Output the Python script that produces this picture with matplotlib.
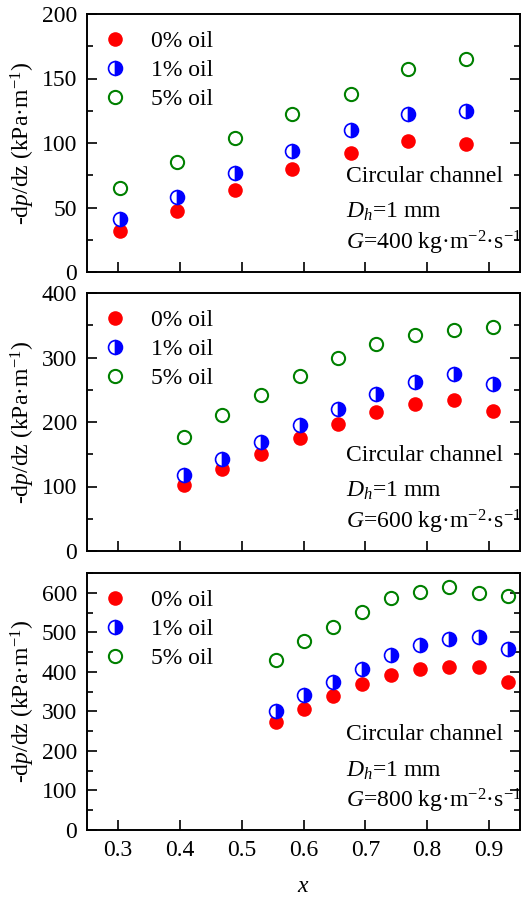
import numpy as np
import matplotlib
matplotlib.use('Agg')
import matplotlib.pyplot as plt
from matplotlib.ticker import MultipleLocator

plt.rcParams['font.family'] = ['Liberation Serif', 'DejaVu Serif']
plt.rcParams['mathtext.fontset'] = 'custom'
plt.rcParams['mathtext.rm'] = 'Liberation Serif'
plt.rcParams['mathtext.it'] = 'Liberation Serif:italic'
plt.rcParams['font.size'] = 17

# G = 400
x400 = [0.304, 0.396, 0.489, 0.582, 0.676, 0.769, 0.863]
oil0_400 = [32.0, 47.5, 63.6, 79.6, 92.5, 101.8, 99.0]
oil1_400 = [41.1, 57.9, 76.5, 93.8, 110.1, 122.5, 124.8]
oil5_400 = [65.4, 85.5, 104.1, 122.2, 137.8, 157.4, 165.1]

# G = 600
x600 = [0.407, 0.469, 0.531, 0.595, 0.656, 0.718, 0.781, 0.844, 0.907]
oil0_600 = [102.8, 126.6, 150.4, 174.7, 197.4, 216.0, 227.9, 234.6, 217.6]
oil1_600 = [118.3, 143.2, 169.0, 194.8, 220.7, 243.4, 262.5, 274.4, 259.4]
oil5_600 = [176.7, 211.4, 242.4, 271.3, 298.7, 320.4, 335.4, 342.1, 347.3]

# G = 800
x800 = [0.556, 0.600, 0.648, 0.694, 0.742, 0.789, 0.836, 0.883, 0.930]
oil0_800 = [272, 307, 338, 368, 392, 408, 413, 413, 375]
oil1_800 = [302, 341, 374, 406, 443, 468, 483, 489, 457]
oil5_800 = [430, 478, 513, 552, 586, 603, 615, 599, 592]

panels = [
    (x400, oil0_400, oil1_400, oil5_400, 200, 50, 25, '400'),
    (x600, oil0_600, oil1_600, oil5_600, 400, 100, 50, '600'),
    (x800, oil0_800, oil1_800, oil5_800, 650, 100, 50, '800'),
]

fig = plt.figure(figsize=(5.22, 9.0), dpi=100)
left = 87 / 522
width = 433 / 522
tops = [14, 293, 573]
bottoms = [272, 551, 830]

for i, (xv, y0, y1, y5, ymax, major, minor, g) in enumerate(panels):
    ax = fig.add_axes([left, (900 - bottoms[i]) / 900, width, (bottoms[i] - tops[i]) / 900])

    ax.plot(xv, y0, 'o', ls='none', color='red', ms=10.5, mew=0, label='0% oil')
    ax.plot(xv, y1, 'o', ls='none', ms=10, mew=1.2, mec='blue', mfc='blue',
            fillstyle='right', markerfacecoloralt='white', label='1% oil')
    ax.plot(xv, y5, 'o', ls='none', ms=9.5, mew=1.5, mec='green', mfc='none', label='5% oil')

    ax.set_xlim(0.25, 0.95)
    ax.set_ylim(0, ymax)
    ax.xaxis.set_major_locator(MultipleLocator(0.1))
    ax.yaxis.set_major_locator(MultipleLocator(major))
    ax.yaxis.set_minor_locator(MultipleLocator(minor))
    ax.tick_params(axis='both', which='both', direction='in', top=False, right=True, width=1.2)
    ax.tick_params(axis='both', which='major', length=7)
    ax.tick_params(axis='y', which='minor', length=4)
    ax.tick_params(axis='y', which='both', pad=7)
    ax.tick_params(axis='x', which='major', pad=7)
    for s in ax.spines.values():
        s.set_linewidth(1.4)

    if i < 2:
        ax.set_xticklabels([])
    else:
        ax.set_xlabel('$x$', labelpad=11)

    ax.set_ylabel('-d$p$/dz (kPa·m$^{-1}$)')
    ax.yaxis.set_label_coords(-0.115, 0.5)

    ax.legend(loc='upper left', bbox_to_anchor=(0.0, 1.0), frameon=False,
              handlelength=1.0, handletextpad=1.0, labelspacing=0.32,
              borderaxespad=0.4, borderpad=0.3)

    ax.text(0.598, 0.37, 'Circular channel', transform=ax.transAxes, va='center')
    ax.text(0.598, 0.232, '$D_h$=1 mm', transform=ax.transAxes, va='center')
    ax.text(0.598, 0.112, '$G$=' + g + ' kg·m$^{-2}$·s$^{-1}$', transform=ax.transAxes, va='center')

plt.savefig('out.png', dpi=100)
